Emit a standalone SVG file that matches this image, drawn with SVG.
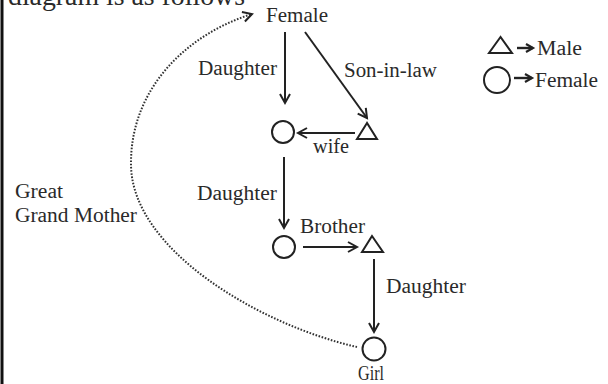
<svg xmlns="http://www.w3.org/2000/svg" width="608" height="384" viewBox="0 0 608 384" font-family="'Liberation Serif', 'Times New Roman', Times, serif">
<style>
text{font-family:'Liberation Serif','Times New Roman',Times,serif;font-size:20px;fill:#2a2a2a}
.sh{fill:none;stroke:#222;stroke-width:2}
.ln{fill:none;stroke:#222;stroke-width:2}
.dot{fill:none;stroke:#333;stroke-width:2;stroke-dasharray:1.6 1.6}
.lg{fill:none;stroke:#222;stroke-width:2.4}
</style>
<defs>
<marker id="ah" markerUnits="userSpaceOnUse" markerWidth="14" markerHeight="14" refX="10" refY="6" orient="auto">
<path d="M1,1 L10,6 L1,11" fill="none" stroke="#222" stroke-width="2"/>
</marker>
<marker id="ahs" markerUnits="userSpaceOnUse" markerWidth="12" markerHeight="12" refX="8" refY="5" orient="auto">
<path d="M1,1 L8,5 L1,9" fill="none" stroke="#222" stroke-width="2.2"/>
</marker>
</defs>
<rect width="608" height="384" fill="#fff"/>
<rect x="0.5" y="0" width="3" height="384" fill="#111"/>
<text x="8" y="5" font-size="28" style="font-size:28px" textLength="237" lengthAdjust="spacingAndGlyphs">diagram is as follows</text>

<g id="connectors">
<line class="ln" x1="285" y1="32" x2="285" y2="103" marker-end="url(#ah)"/>
<line class="ln" x1="305" y1="32" x2="367" y2="118" marker-end="url(#ah)"/>
<line class="ln" x1="355" y1="133" x2="298" y2="133" marker-end="url(#ah)"/>
<line class="ln" x1="284" y1="157" x2="284" y2="228" marker-end="url(#ah)"/>
<line class="ln" x1="303" y1="247" x2="357" y2="247" marker-end="url(#ah)"/>
<line class="ln" x1="374" y1="259" x2="374" y2="332" marker-end="url(#ah)"/>
<path class="dot" d="M357,347 C260,325 132,250 131,165 C130,90 185,35 252,14" marker-end="url(#ah)"/>
</g>

<g id="edge-labels">
<text x="198" y="75" textLength="79" lengthAdjust="spacingAndGlyphs">Daughter</text>
<text x="344" y="77" textLength="93" lengthAdjust="spacingAndGlyphs">Son-in-law</text>
<text x="313" y="153" textLength="36" lengthAdjust="spacingAndGlyphs">wife</text>
<text x="197" y="200" textLength="80" lengthAdjust="spacingAndGlyphs">Daughter</text>
<text x="300" y="233" textLength="65" lengthAdjust="spacingAndGlyphs">Brother</text>
<text x="386" y="293" textLength="80" lengthAdjust="spacingAndGlyphs">Daughter</text>
<text x="15" y="198" textLength="48" lengthAdjust="spacingAndGlyphs">Great</text>
<text x="15" y="222" textLength="122" lengthAdjust="spacingAndGlyphs">Grand Mother</text>
</g>

<g id="node-female">
<text x="266" y="22" textLength="62" lengthAdjust="spacingAndGlyphs">Female</text>
</g>
<g id="node-daughter">
<circle class="sh" cx="283" cy="132" r="11"/>
</g>
<g id="node-son-in-law">
<polygon class="sh" points="367,123 357,139 377,139"/>
</g>
<g id="node-granddaughter">
<circle class="sh" cx="284" cy="247" r="11"/>
</g>
<g id="node-brother">
<polygon class="sh" points="372,236 362,252 383,252"/>
</g>
<g id="node-girl">
<circle class="sh" cx="374" cy="349" r="11.5"/>
<text x="358" y="380" textLength="26" lengthAdjust="spacingAndGlyphs">Girl</text>
</g>

<g id="legend">
<polygon class="sh" points="500.5,37 489,53 512,53"/>
<line class="lg" x1="517" y1="48" x2="533" y2="48" marker-end="url(#ahs)"/>
<text x="537" y="55" textLength="45" lengthAdjust="spacingAndGlyphs">Male</text>
<circle class="sh" cx="497" cy="80" r="13"/>
<line class="lg" x1="514" y1="78" x2="532" y2="78" marker-end="url(#ahs)"/>
<text x="535" y="87" textLength="63" lengthAdjust="spacingAndGlyphs">Female</text>
</g>
</svg>
